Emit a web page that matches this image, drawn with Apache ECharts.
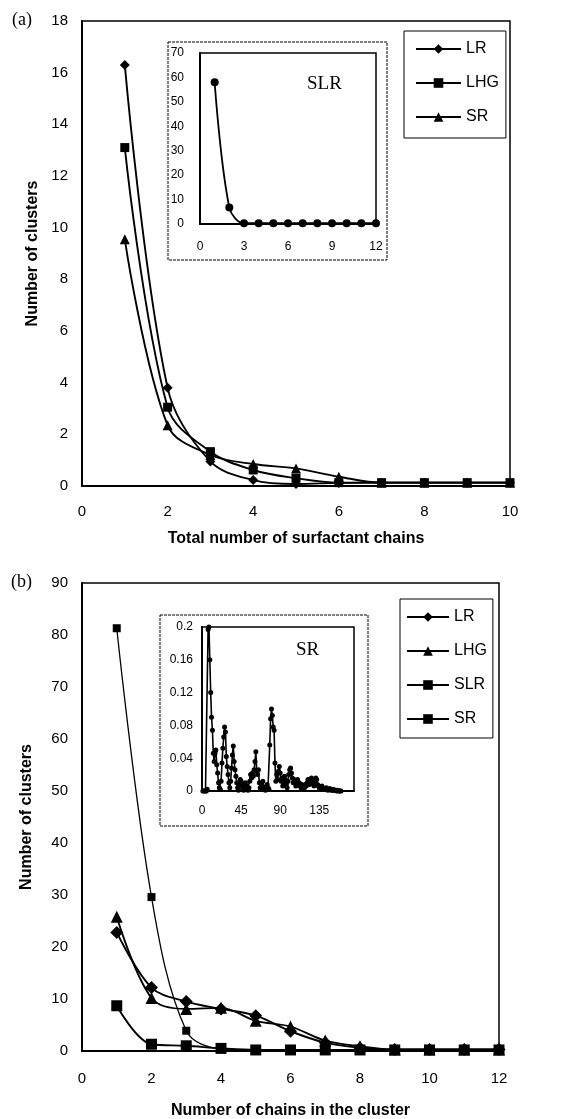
<!DOCTYPE html>
<html>
<head>
<meta charset="utf-8">
<script src="https://cdn.jsdelivr.net/npm/echarts@6/dist/echarts.min.js"></script>
<style>
html,body{margin:0;padding:0;background:#fff}
#chartA{width:566px;height:560px}
#chartB{width:566px;height:559px}
</style>
</head>
<body>
<div id="chartA"></div>
<div id="chartB"></div>
<script>
// (a) total number of surfactant chains
let chainsA = [1, 2, 3, 4, 5, 6, 7, 8, 9, 10]
let lrA = [16.3, 3.8, 0.95, 0.23, 0.08, 0.12, 0.13, 0.13, 0.13, 0.13]
let lhgA = [13.1, 3.05, 1.33, 0.62, 0.3, 0.13, 0.13, 0.13, 0.13, 0.13]
let srA = [9.55, 2.35, 1.2, 0.85, 0.68, 0.36, 0.13, 0.13, 0.13, 0.13]
// (a) inset, SLR
let chainsInsetA = [1, 2, 3, 4, 5, 6, 7, 8, 9, 10, 11, 12]
let slrInsetA = [58, 6.8, 0.3, 0.3, 0.3, 0.3, 0.3, 0.3, 0.3, 0.3, 0.3, 0.3]

// (b) number of chains in the cluster
let chainsB = [1, 2, 3, 4, 5, 6, 7, 8, 9, 10, 11, 12]
let lrB = [22.8, 12.2, 9.5, 8.1, 6.8, 3.8, 1.6, 0.6, 0.3, 0.3, 0.3, 0.3]
let lhgB = [25.8, 10.2, 8.1, 8.3, 5.8, 4.7, 2.0, 0.9, 0.3, 0.3, 0.3, 0.3]
let slrB = [81.3, 29.6, 3.9, 0.4, 0.2, 0.2, 0.2, 0.2, 0.2, 0.2, 0.2, 0.2]
let srB = [8.7, 1.3, 1.0, 0.5, 0.2, 0.2, 0.2, 0.2, 0.2, 0.2, 0.2, 0.2]
// (b) inset, SR, chains 1..160
let srInsetB = [
	0, 0, 0, 0, 0, 0.002, 0.197, 0.2, 0.16, 0.12,
	0.09, 0.074, 0.046, 0.036, 0.046, 0.05, 0.032, 0.022, 0.01, 0.004,
	0.002, 0.012, 0.034, 0.052, 0.066, 0.078, 0.072, 0.042, 0.03, 0.02,
	0.01, 0.004, 0.012, 0.028, 0.044, 0.055, 0.036, 0.026, 0.018, 0.01,
	0.004, 0.001, 0.006, 0.014, 0.012, 0.007, 0.003, 0.001, 0.004, 0.01,
	0.006, 0.002, 0.001, 0.004, 0.012, 0.02, 0.016, 0.022, 0.018, 0.026,
	0.036, 0.048, 0.024, 0.02, 0.026, 0.01, 0.004, 0.002, 0.006, 0.012,
	0.005, 0.002, 0.001, 0.003, 0.008, 0.004, 0.002, 0.056, 0.088, 0.1,
	0.092, 0.078, 0.074, 0.034, 0.012, 0.02, 0.014, 0.024, 0.03, 0.022,
	0.012, 0.016, 0.006, 0.01, 0.018, 0.014, 0.008, 0.004, 0.012, 0.02,
	0.026, 0.028, 0.022, 0.016, 0.01, 0.014, 0.01, 0.006, 0.012, 0.014,
	0.008, 0.01, 0.006, 0.004, 0.008, 0.006, 0.002, 0.004, 0.008, 0.006,
	0.01, 0.014, 0.012, 0.008, 0.014, 0.016, 0.012, 0.01, 0.006, 0.012,
	0.016, 0.014, 0.008, 0.006, 0.004, 0.002, 0.004, 0.006, 0.004, 0.002,
	0.003, 0.002, 0.004, 0.002, 0.001, 0.002, 0.003, 0.002, 0.001, 0.001,
	0.002, 0.001, 0.001, 0.001, 0, 0.001, 0, 0, 0, 0
]

const SANS = "Liberation Sans"
const SERIF = "Liberation Serif"

function pairs(xs, ys) {
	return ys.map((y, i) => [xs[i], y])
}

function mainLine(name, xs, ys, symbol, size, width) {
	return {
		name: name,
		type: "line",
		xAxisIndex: 0,
		yAxisIndex: 0,
		data: pairs(xs, ys),
		smooth: 0.35,
		symbol: symbol,
		symbolSize: size,
		color: "#000",
		itemStyle: { color: "#000" },
		lineStyle: { color: "#000", width: width || 1.9 },
		z: 3
	}
}

function valueAxis(gridIndex, min, max, interval, fontSize, margin, extra) {
	return Object.assign({
		type: "value",
		gridIndex: gridIndex,
		min: min,
		max: max,
		interval: interval,
		splitLine: { show: false },
		axisTick: { show: false },
		axisLine: { show: true, onZero: false, lineStyle: { color: "#000", width: 2 } },
		axisLabel: { color: "#000", fontFamily: SANS, fontSize: fontSize, margin: margin }
	}, extra || {})
}

function nameOpts(name, gap) {
	return {
		name: name,
		nameLocation: "middle",
		nameGap: gap,
		nameTextStyle: { color: "#000", fontFamily: SANS, fontSize: 16, fontWeight: "bold" }
	}
}

// ---------- chart (a) ----------
let optionA = {
	animation: false,
	backgroundColor: "#fff",
	grid: [
		{ left: 82, top: 21, width: 428, height: 465, show: true, borderColor: "#000", borderWidth: 1.5, outerBoundsMode: "none" },
		{ left: 200, top: 53, width: 176, height: 171, show: true, borderColor: "#000", borderWidth: 1.5, outerBoundsMode: "none" }
	],
	xAxis: [
		valueAxis(0, 0, 10, 2, 15, 18, nameOpts("Total number of surfactant chains", 45)),
		valueAxis(1, 0, 12, 3, 12, 17)
	],
	yAxis: [
		valueAxis(0, 0, 18, 2, 15, 14, nameOpts("Number of clusters", 39)),
		valueAxis(1, 0, 70, 10, 12, 16)
	],
	legend: {
		orient: "vertical",
		left: 404,
		top: 31,
		padding: [10, 7, 13, 11],
		itemWidth: 45,
		itemHeight: 12,
		itemGap: 18,
		borderColor: "#000",
		borderWidth: 1,
		selectedMode: false,
		data: ["LR", "LHG", "SR"],
		textStyle: { color: "#000", fontFamily: SANS, fontSize: 16 }
	},
	graphic: [
		{ type: "rect", shape: { x: 168, y: 42, width: 219, height: 218 }, style: { fill: null, stroke: "#000", lineWidth: 1, lineDash: [3, 1] } },
		{ type: "text", left: 12, top: 11, style: { text: "(a)", font: "18px " + SERIF, fill: "#000" } },
		{ type: "text", left: 307, top: 75, style: { text: "SLR", font: "19px " + SERIF, fill: "#000" } }
	],
	series: [
		mainLine("LR", chainsA, lrA, "diamond", 10),
		mainLine("LHG", chainsA, lhgA, "rect", 9),
		mainLine("SR", chainsA, srA, "triangle", 10),
		{
			name: "SLR-inset",
			type: "line",
			xAxisIndex: 1,
			yAxisIndex: 1,
			data: pairs(chainsInsetA, slrInsetA),
			smooth: 0.35,
			symbol: "circle",
			symbolSize: 8,
			itemStyle: { color: "#000" },
			lineStyle: { color: "#000", width: 1.8 },
			z: 3
		}
	]
}

// ---------- chart (b) ----------
let optionB = {
	animation: false,
	backgroundColor: "#fff",
	grid: [
		{ left: 82, top: 23, width: 417, height: 468, show: true, borderColor: "#000", borderWidth: 1.5, outerBoundsMode: "none" },
		{ left: 202, top: 67, width: 152, height: 164, show: true, borderColor: "#000", borderWidth: 1.5, outerBoundsMode: "none" }
	],
	xAxis: [
		valueAxis(0, 0, 12, 2, 15, 20, nameOpts("Number of chains in the cluster", 52)),
		valueAxis(1, 0, 175, 45, 12, 14, { axisLabel: { color: "#000", fontFamily: SANS, fontSize: 12, margin: 14, showMaxLabel: false } })
	],
	yAxis: [
		valueAxis(0, 0, 90, 10, 15, 14, nameOpts("Number of clusters", 47)),
		valueAxis(1, 0, 0.2, 0.04, 12, 9)
	],
	legend: {
		orient: "vertical",
		left: 400,
		top: 39,
		padding: [10, 6, 11, 6],
		itemWidth: 42,
		itemHeight: 12,
		itemGap: 18,
		borderColor: "#000",
		borderWidth: 1,
		selectedMode: false,
		data: ["LR", "LHG", "SLR", "SR"],
		textStyle: { color: "#000", fontFamily: SANS, fontSize: 16 }
	},
	graphic: [
		{ type: "rect", shape: { x: 160, y: 55, width: 208, height: 211 }, style: { fill: null, stroke: "#000", lineWidth: 1, lineDash: [3, 1] } },
		{ type: "text", left: 11, top: 13, style: { text: "(b)", font: "18px " + SERIF, fill: "#000" } },
		{ type: "text", left: 296, top: 81, style: { text: "SR", font: "19px " + SERIF, fill: "#000" } }
	],
	series: [
		mainLine("LR", chainsB, lrB, "diamond", 13),
		mainLine("LHG", chainsB, lhgB, "triangle", 12),
		mainLine("SLR", chainsB, slrB, "rect", 8, 1.3),
		mainLine("SR", chainsB, srB, "rect", 11),
		{
			name: "SR-inset",
			type: "line",
			xAxisIndex: 1,
			yAxisIndex: 1,
			data: pairs(srInsetB.map((v, i) => i + 1), srInsetB),
			symbol: "circle",
			symbolSize: 5,
			itemStyle: { color: "#000" },
			lineStyle: { color: "#000", width: 1.6 },
			z: 3
		}
	]
}

let chartA = echarts.init(document.getElementById("chartA"))
chartA.setOption(optionA)
let chartB = echarts.init(document.getElementById("chartB"))
chartB.setOption(optionB)
</script>
</body>
</html>
